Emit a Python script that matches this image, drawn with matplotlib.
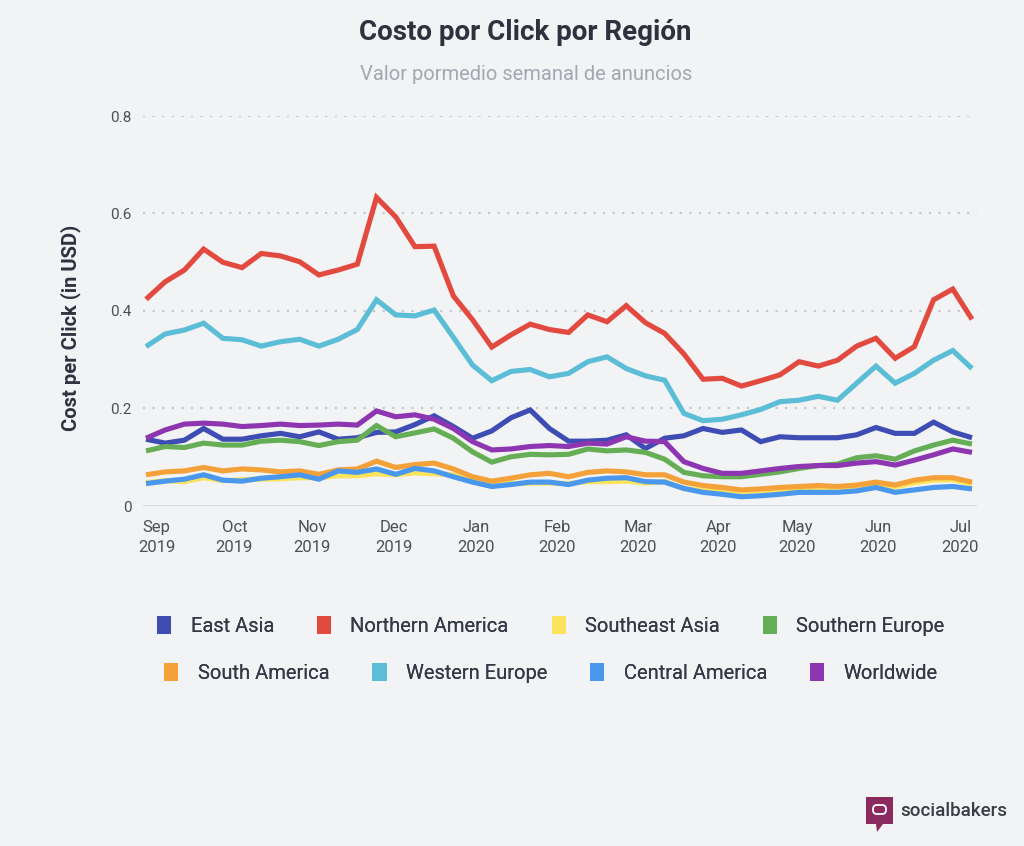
import matplotlib
matplotlib.use("Agg")
import matplotlib.pyplot as plt
from matplotlib.patches import Rectangle, Polygon, FancyBboxPatch

plt.rcParams['font.family'] = ['Roboto', 'DejaVu Sans']
plt.rcParams['lines.scale_dashes'] = False

# ---------------- data ----------------
series_names = ["East Asia", "Northern America", "Southeast Asia", "Southern Europe",
                "South America", "Western Europe", "Central America", "Worldwide"]

east_asia = [0.137, 0.129, 0.135, 0.159, 0.137, 0.137, 0.144, 0.149, 0.142, 0.152,
             0.137, 0.140, 0.151, 0.152, 0.167, 0.185, 0.163, 0.139, 0.154, 0.181,
             0.197, 0.159, 0.133, 0.133, 0.135, 0.146, 0.118, 0.139, 0.144, 0.159,
             0.151, 0.156, 0.132, 0.142, 0.140, 0.140, 0.140, 0.146, 0.161, 0.149,
             0.149, 0.172, 0.152, 0.140]
northern_america = [0.424, 0.460, 0.484, 0.527, 0.500, 0.489, 0.518, 0.513, 0.501, 0.474,
                    0.484, 0.496, 0.633, 0.593, 0.532, 0.533, 0.431, 0.382, 0.326, 0.351,
                    0.373, 0.362, 0.356, 0.392, 0.378, 0.411, 0.376, 0.354, 0.312, 0.260,
                    0.262, 0.246, 0.257, 0.269, 0.296, 0.287, 0.299, 0.328, 0.344, 0.303,
                    0.327, 0.423, 0.445, 0.383]
southeast_asia = [0.048, 0.052, 0.050, 0.058, 0.052, 0.054, 0.055, 0.056, 0.058, 0.058,
                  0.062, 0.062, 0.066, 0.064, 0.068, 0.066, 0.064, 0.054, 0.044, 0.046,
                  0.047, 0.047, 0.046, 0.050, 0.050, 0.051, 0.047, 0.050, 0.036, 0.032,
                  0.034, 0.030, 0.031, 0.034, 0.036, 0.038, 0.036, 0.039, 0.045, 0.039,
                  0.048, 0.053, 0.054, 0.045]
southern_europe = [0.113, 0.122, 0.120, 0.129, 0.125, 0.125, 0.133, 0.135, 0.132, 0.124,
                   0.132, 0.135, 0.165, 0.142, 0.150, 0.158, 0.139, 0.111, 0.090, 0.101,
                   0.106, 0.105, 0.106, 0.117, 0.113, 0.115, 0.110, 0.096, 0.069, 0.062,
                   0.060, 0.060, 0.065, 0.070, 0.077, 0.083, 0.086, 0.099, 0.103, 0.096,
                   0.113, 0.125, 0.135, 0.127]
south_america = [0.064, 0.070, 0.072, 0.079, 0.072, 0.076, 0.074, 0.070, 0.072, 0.065,
                 0.074, 0.076, 0.092, 0.079, 0.085, 0.088, 0.076, 0.060, 0.051, 0.057,
                 0.064, 0.067, 0.060, 0.069, 0.072, 0.070, 0.064, 0.064, 0.049, 0.042,
                 0.038, 0.033, 0.035, 0.038, 0.040, 0.042, 0.040, 0.043, 0.049, 0.043,
                 0.053, 0.058, 0.058, 0.049]
western_europe = [0.327, 0.353, 0.361, 0.375, 0.344, 0.341, 0.328, 0.337, 0.342, 0.328,
                  0.342, 0.362, 0.423, 0.392, 0.390, 0.402, 0.346, 0.289, 0.257, 0.276,
                  0.280, 0.265, 0.272, 0.296, 0.306, 0.282, 0.267, 0.258, 0.190, 0.175,
                  0.178, 0.187, 0.198, 0.214, 0.217, 0.225, 0.217, 0.252, 0.287, 0.252,
                  0.272, 0.299, 0.319, 0.282]
central_america = [0.046, 0.051, 0.055, 0.064, 0.053, 0.051, 0.057, 0.060, 0.064, 0.055,
                   0.072, 0.069, 0.076, 0.065, 0.077, 0.072, 0.060, 0.049, 0.040, 0.044,
                   0.049, 0.049, 0.044, 0.053, 0.057, 0.058, 0.050, 0.049, 0.036, 0.028,
                   0.024, 0.019, 0.021, 0.024, 0.028, 0.028, 0.028, 0.031, 0.038, 0.028,
                   0.033, 0.038, 0.040, 0.035]
worldwide = [0.139, 0.156, 0.168, 0.170, 0.168, 0.163, 0.165, 0.168, 0.165, 0.166,
             0.168, 0.166, 0.195, 0.183, 0.187, 0.178, 0.159, 0.132, 0.115, 0.117,
             0.122, 0.124, 0.122, 0.129, 0.127, 0.142, 0.133, 0.132, 0.091, 0.077,
             0.067, 0.067, 0.072, 0.077, 0.081, 0.083, 0.083, 0.088, 0.091, 0.084,
             0.094, 0.105, 0.117, 0.110]

month_labels = ["Sep\n2019", "Oct\n2019", "Nov\n2019", "Dec\n2019", "Jan\n2020", "Feb\n2020",
                "Mar\n2020", "Apr\n2020", "May\n2020", "Jun\n2020", "Jul\n2020"]
month_label_pos = [0.55, 4.6, 8.65, 12.9, 17.2, 21.4, 25.6, 29.8, 33.9, 38.1, 42.4]
y_ticks = [0, 0.2, 0.4, 0.6, 0.8]
y_tick_labels = ["0", "0.2", "0.4", "0.6", "0.8"]

all_series = [east_asia, northern_america, southeast_asia, southern_europe,
              south_america, western_europe, central_america, worldwide]
colors = ["#3d4db3", "#e2493f", "#fbe35b", "#66ae56",
          "#f4a13a", "#5bbdd6", "#4a97ee", "#8e36b2"]

# ---------------- figure ----------------
BG = "#f2f3f5"
W, H = 1024, 846
fig = plt.figure(figsize=(W / 100, H / 100), dpi=100, facecolor=BG)

left, right, top, bottom = 143, 977, 116, 506
ax = fig.add_axes([left / W, 1 - bottom / H, (right - left) / W, (bottom - top) / H])
ax.set_facecolor(BG)

x = list(range(len(east_asia)))
for vals, c in zip(all_series, colors):
    ax.plot(x, vals, color=c, lw=3.7, solid_joinstyle='miter', solid_capstyle='butt', zorder=3)

ax.set_ylim(0, 0.8)
ax.set_xlim(-3 / 19.2, 43 + 5 / 19.2)

for s in ax.spines.values():
    s.set_visible(False)

for yv in y_ticks[1:]:
    ax.axhline(yv, color="#c6c8cd", lw=1.6, dashes=(1.6, 5.3), zorder=1)
ax.axhline(0, color="#d3d5da", lw=2.0, zorder=2)

ax.set_yticks(y_ticks)
ax.set_yticklabels(y_tick_labels)
ax.tick_params(axis='y', length=0, pad=8, labelsize=11, labelcolor="#4d4f55")
ax.set_xticks(month_label_pos)
ax.set_xticklabels(month_labels, linespacing=1.4)
ax.tick_params(axis='x', length=0, pad=10, labelsize=12, labelcolor="#4d4f55")

# titles
fig.text(525 / W, 1 - 33 / H, "Costo por Click por Región", ha='center', va='center',
         fontsize=20, fontweight='bold', color="#2d323e")
fig.text(526 / W, 1 - 74 / H, "Valor pormedio semanal de anuncios", ha='center', va='center',
         fontsize=14.5, color="#a3a7b0")
fig.text(71 / W, 1 - 328 / H, "Cost per Click (in USD)", ha='center', va='center',
         rotation=90, fontsize=14.5, fontweight='bold', color="#2d323e")

# legend (two centered rows)
handles = [Rectangle((0, 0), 1, 1, facecolor=c, edgecolor='none') for c in colors]
rows = [(0, 4, 626), (4, 8, 673)]
for a, b, yc in rows:
    leg = fig.legend(handles[a:b], series_names[a:b], ncol=4, loc='center',
                     bbox_to_anchor=(551 / W, 1 - yc / H), frameon=False,
                     fontsize=14.5, handlelength=0.7, handleheight=0.95,
                     handletextpad=0.95, columnspacing=2.15, labelcolor="#333a45")
    fig.add_artist(leg)

# socialbakers logo
lx0, ly0 = 866, 797
logo_ax = fig.add_axes([0, 0, 1, 1], facecolor='none')
logo_ax.set_xlim(0, W)
logo_ax.set_ylim(H, 0)
logo_ax.axis('off')
logo_ax.add_patch(Rectangle((lx0, ly0), 27, 27, facecolor="#8b2a5f", edgecolor='none'))
logo_ax.add_patch(Polygon([[lx0 + 10, ly0 + 27], [lx0 + 17, ly0 + 27], [lx0 + 11, ly0 + 35]],
                          closed=True, facecolor="#8b2a5f", edgecolor='none'))
logo_ax.add_patch(FancyBboxPatch((lx0 + 7, ly0 + 8), 13, 9, boxstyle="round,pad=0,rounding_size=4",
                                 facecolor='none', edgecolor='white', lw=1.3))
logo_ax.text(900, 811, "socialbakers", ha='left', va='center', fontsize=13.5,
             fontweight='medium', color="#3a3d45")

fig.savefig("out.png", dpi=100, facecolor=BG)
